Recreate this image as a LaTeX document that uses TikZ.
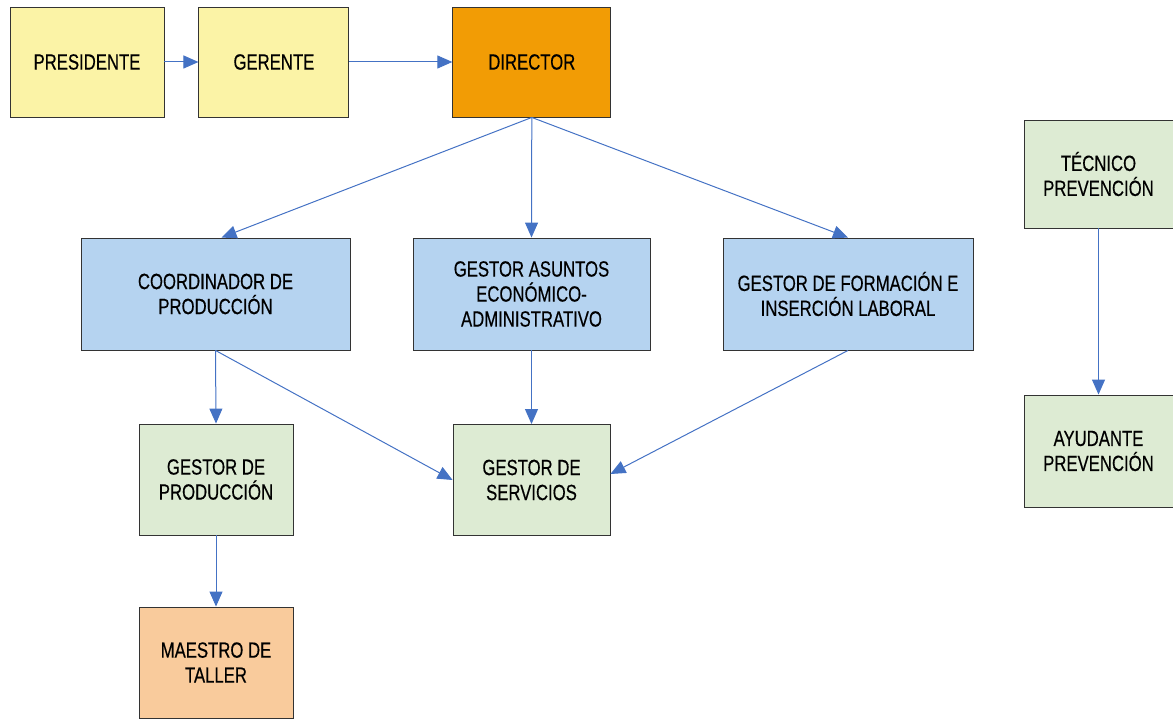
\documentclass[tikz,border=0pt]{standalone}
\usepackage{fontspec}
\setmainfont{Liberation Sans}[FakeStretch=0.76, FakeBold=0.4]
\usetikzlibrary{positioning,arrows.meta}

\definecolor{boxyellow}{HTML}{FBF3A6}
\definecolor{boxorange}{HTML}{F29C05}
\definecolor{boxblue}{HTML}{B5D3F0}
\definecolor{boxgreen}{HTML}{DDEBD3}
\definecolor{boxpeach}{HTML}{F9CB9C}
\definecolor{linkblue}{HTML}{4472C4}

\begin{document}
\begin{tikzpicture}[x=1pt, y=1pt,
    base/.style={rectangle, draw=black!80, line width=0.9pt, align=center, inner sep=2pt,
        font=\fontsize{22}{25}\selectfont},
    yellowbox/.style={base, fill=boxyellow, minimum width=154pt, minimum height=110pt},
    topbox/.style={base, fill=boxorange, minimum width=158pt, minimum height=110pt},
    bluebox/.style={base, fill=boxblue, minimum height=112pt},
    greenbox/.style={base, fill=boxgreen, minimum width=154pt, minimum height=111pt},
    peachbox/.style={base, fill=boxpeach, minimum width=154pt, minimum height=111pt},
    arrow/.style={draw=linkblue, line width=1pt, -{Triangle[length=15pt, width=13pt]}}]

\useasboundingbox (0,0) rectangle (1173,718);

% top row
\node [yellowbox] (pres) at (87,656) {PRESIDENTE};
\node [yellowbox, minimum width=150pt, right=34pt of pres] (ger) {GERENTE};
\node [topbox, right=103pt of ger] (dir) {DIRECTOR};

% second row
\node [bluebox, minimum width=269pt] (coord) at (215.5,424) {COORDINADOR DE\\PRODUCCIÓN};
\node [bluebox, minimum width=237pt] (asun) at (531.5,424) {GESTOR ASUNTOS\\ECONÓMICO-\\ADMINISTRATIVO};
\node [bluebox, minimum width=250pt] (form) at (848,424) {GESTOR DE FORMACIÓN E\\INSERCIÓN LABORAL};

% third row
\node [greenbox] (gprod) at (216,238.5) {GESTOR DE\\PRODUCCIÓN};
\node [greenbox, minimum width=157pt] (serv) at (531.5,238) {GESTOR DE\\SERVICIOS};
\node [peachbox] (maes) at (216,55.5) {MAESTRO DE\\TALLER};

% prevention
\node [greenbox, minimum width=149pt, minimum height=108pt] (tec) at (1098.5,544) {TÉCNICO\\PREVENCIÓN};
\node [greenbox, minimum width=149pt, minimum height=112pt] (ayu) at (1098.5,267) {AYUDANTE\\PREVENCIÓN};

\draw [arrow] (pres) -- (ger);
\draw [arrow] (ger) -- (dir);
\draw [arrow] (dir.south) -- ([xshift=6pt]coord.north);
\draw [arrow] (dir.south) -- (asun.north);
\draw [arrow] (dir.south) -- (form.north);
\draw [arrow] (coord.south) -- (gprod.north);
\draw [arrow] (coord.south) -- (serv.west);
\draw [arrow] (asun.south) -- (serv.north);
\draw [arrow] (form.south) -- ([yshift=6pt]serv.east);
\draw [arrow] (gprod) -- (maes);
\draw [arrow] (tec) -- (ayu);

\end{tikzpicture}
\end{document}
